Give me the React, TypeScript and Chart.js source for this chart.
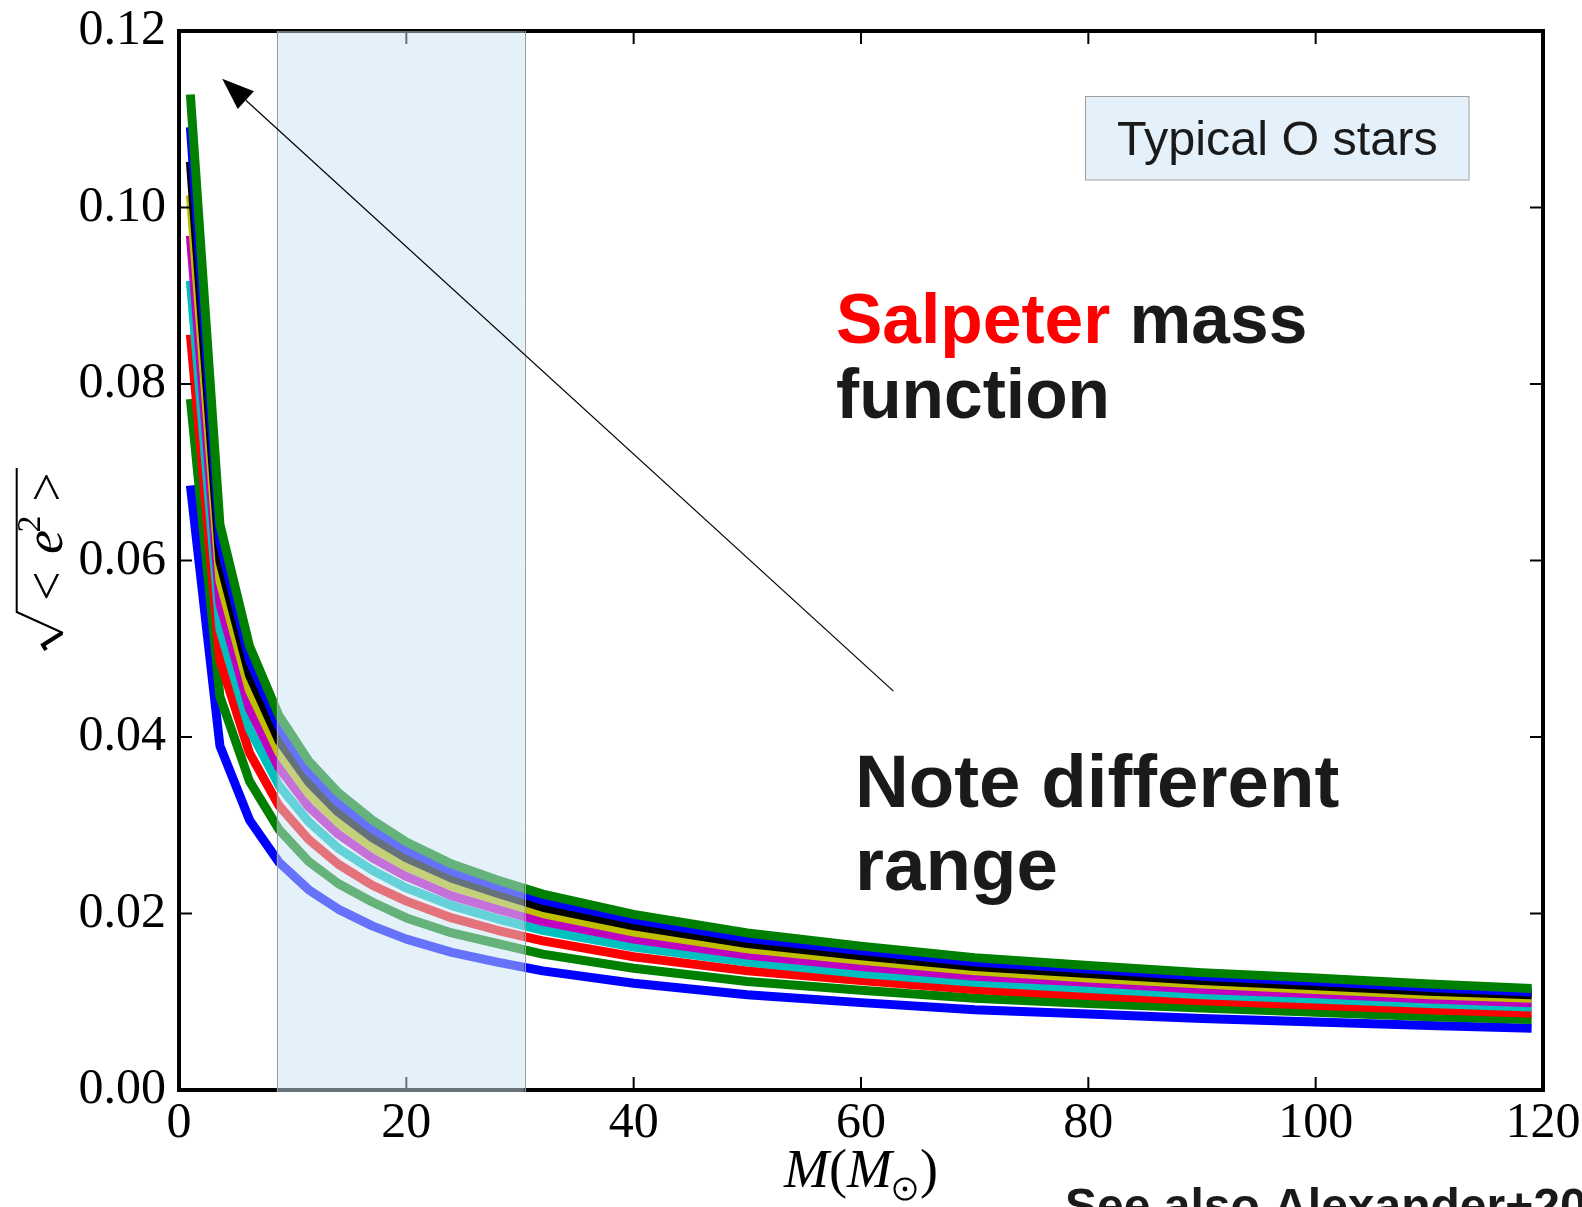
import React, { useEffect, useRef } from "react";
import { Chart, registerables } from "chart.js";

Chart.register(...registerables);

// ---- data ----
const massValues = [1, 3.6, 6.2, 8.8, 11.4, 14, 17, 20, 24, 28, 32, 40, 50, 60, 70, 80, 90, 100, 110, 119];

const blueLow = [0.0685, 0.039, 0.0306, 0.0258, 0.0227, 0.0205, 0.0186, 0.0171, 0.0156, 0.0145, 0.0135, 0.0121, 0.0108, 0.0099, 0.0091, 0.0086, 0.0081, 0.0077, 0.0073, 0.007];
const greenLow = [0.0783, 0.0446, 0.035, 0.0295, 0.0259, 0.0234, 0.0213, 0.0195, 0.0178, 0.0166, 0.0154, 0.0138, 0.0123, 0.0113, 0.0104, 0.0098, 0.0093, 0.0088, 0.0083, 0.008];
const redSeries = [0.0856, 0.0487, 0.0382, 0.0322, 0.0284, 0.0256, 0.0232, 0.0214, 0.0195, 0.0181, 0.0169, 0.0151, 0.0135, 0.0124, 0.0114, 0.0107, 0.0101, 0.0096, 0.0091, 0.0087];
const cyanSeries = [0.0917, 0.0522, 0.0409, 0.0345, 0.0304, 0.0274, 0.0249, 0.0229, 0.0209, 0.0194, 0.0181, 0.0162, 0.0145, 0.0132, 0.0122, 0.0115, 0.0108, 0.0103, 0.0098, 0.0094];
const magentaSeries = [0.0968, 0.0551, 0.0432, 0.0365, 0.0321, 0.029, 0.0263, 0.0242, 0.022, 0.0205, 0.0191, 0.0171, 0.0153, 0.014, 0.0129, 0.0122, 0.0114, 0.0109, 0.0103, 0.0099];
const yellowSeries = [0.1014, 0.0577, 0.0453, 0.0382, 0.0336, 0.0303, 0.0275, 0.0253, 0.0231, 0.0215, 0.02, 0.0179, 0.016, 0.0147, 0.0135, 0.0127, 0.012, 0.0114, 0.0108, 0.0104];
const blackSeries = [0.1052, 0.0599, 0.047, 0.0396, 0.0349, 0.0315, 0.0286, 0.0263, 0.024, 0.0223, 0.0207, 0.0186, 0.0166, 0.0152, 0.014, 0.0132, 0.0124, 0.0118, 0.0112, 0.0108];
const blueHigh = [0.1091, 0.0621, 0.0487, 0.0411, 0.0361, 0.0326, 0.0296, 0.0272, 0.0248, 0.0231, 0.0215, 0.0193, 0.0172, 0.0158, 0.0145, 0.0137, 0.0129, 0.0123, 0.0116, 0.0111];
const greenHigh = [0.1128, 0.0641, 0.0503, 0.0424, 0.0373, 0.0337, 0.0306, 0.0281, 0.0256, 0.0238, 0.0222, 0.0199, 0.0178, 0.0163, 0.015, 0.0141, 0.0133, 0.0127, 0.012, 0.0115];

const seriesList = [blueLow, greenLow, redSeries, cyanSeries, magentaSeries, yellowSeries, blackSeries, blueHigh, greenHigh];
const seriesColors = ["#0000ff", "#008000", "#ff0000", "#00bfbf", "#bf00bf", "#bfbf00", "#000000", "#0000ff", "#008000"];

const xTickValues = [0, 20, 40, 60, 80, 100, 120];
const yTickValues = [0, 0.02, 0.04, 0.06, 0.08, 0.1, 0.12];
const oStarRange = [8.6, 30.4];
const arrowTail = [62.85, 0.0452];
const arrowTip = [3.8, 0.1146];

const SERIF = '"Liberation Serif", "Times New Roman", serif';
const SANS = '"Liberation Sans", Arial, sans-serif';

const decorPlugin = {
  id: "decor",
  afterDatasetsDraw(chart: any) {
    const { ctx, chartArea: a, scales } = chart;
    const xs = scales.x;
    const ys = scales.y;
    ctx.save();
    // ticks (inside, all four sides)
    ctx.strokeStyle = "#000";
    ctx.lineWidth = 2;
    ctx.beginPath();
    for (const t of xTickValues) {
      if (t <= xTickValues[0] || t >= xTickValues[xTickValues.length - 1]) continue;
      const px = xs.getPixelForValue(t);
      ctx.moveTo(px, a.bottom);
      ctx.lineTo(px, a.bottom - 13);
      ctx.moveTo(px, a.top);
      ctx.lineTo(px, a.top + 13);
    }
    for (const t of yTickValues) {
      if (t <= yTickValues[0] || t >= yTickValues[yTickValues.length - 1]) continue;
      const py = ys.getPixelForValue(t);
      ctx.moveTo(a.left, py);
      ctx.lineTo(a.left + 13, py);
      ctx.moveTo(a.right, py);
      ctx.lineTo(a.right - 13, py);
    }
    ctx.stroke();
    // frame
    ctx.lineWidth = 4;
    ctx.strokeRect(a.left, a.top, a.right - a.left, a.bottom - a.top);

    // shaded "typical O stars" range
    const x1 = xs.getPixelForValue(oStarRange[0]);
    const x2 = xs.getPixelForValue(oStarRange[1]);
    ctx.fillStyle = "rgba(201,227,243,0.5)";
    ctx.fillRect(x1, a.top, x2 - x1, a.bottom - a.top + 2);
    ctx.strokeStyle = "#9c9c9c";
    ctx.lineWidth = 1;
    ctx.beginPath();
    ctx.moveTo(Math.round(x1) + 0.5, a.top);
    ctx.lineTo(Math.round(x1) + 0.5, a.bottom + 2);
    ctx.moveTo(Math.round(x2) + 0.5, a.top);
    ctx.lineTo(Math.round(x2) + 0.5, a.bottom + 2);
    ctx.stroke();

    // arrow
    const fx = xs.getPixelForValue(arrowTail[0]);
    const fy = ys.getPixelForValue(arrowTail[1]);
    const tx = xs.getPixelForValue(arrowTip[0]);
    const ty = ys.getPixelForValue(arrowTip[1]);
    const ang = Math.atan2(ty - fy, tx - fx);
    const headLen = 32;
    const headHalf = 12;
    const bx = tx - headLen * Math.cos(ang);
    const by = ty - headLen * Math.sin(ang);
    ctx.strokeStyle = "#000";
    ctx.lineWidth = 1.2;
    ctx.beginPath();
    ctx.moveTo(fx, fy);
    ctx.lineTo(bx, by);
    ctx.stroke();
    ctx.fillStyle = "#000";
    ctx.beginPath();
    ctx.moveTo(tx, ty);
    ctx.lineTo(bx - headHalf * Math.sin(ang), by + headHalf * Math.cos(ang));
    ctx.lineTo(bx + headHalf * Math.sin(ang), by - headHalf * Math.cos(ang));
    ctx.closePath();
    ctx.fill();
    ctx.restore();
  },
  afterDraw(chart: any) {
    const { ctx } = chart;
    ctx.save();
    // Legend-like box
    ctx.fillStyle = "#e4f1fa";
    ctx.fillRect(1085.5, 96.5, 383.5, 83.5);
    ctx.strokeStyle = "#a0a0a0";
    ctx.lineWidth = 1;
    ctx.strokeRect(1085.5, 96.5, 383.5, 83.5);
    ctx.fillStyle = "#1a1a1a";
    ctx.textBaseline = "alphabetic";
    ctx.textAlign = "left";
    ctx.font = `48.5px ${SANS}`;
    ctx.fillText("Typical O stars", 1117, 155);

    // Salpeter mass function
    ctx.font = `bold 69.5px ${SANS}`;
    ctx.fillStyle = "#ff0000";
    ctx.fillText("Salpeter", 836, 343);
    const w = ctx.measureText("Salpeter ").width;
    ctx.fillStyle = "#1a1a1a";
    ctx.fillText("mass", 836 + w, 343);
    ctx.fillText("function", 836, 418);

    // Note different range
    ctx.font = `bold 74.5px ${SANS}`;
    ctx.fillText("Note different", 855, 807);
    ctx.fillText("range", 855, 890);

    // See also (cut by the bottom edge)
    ctx.font = `bold 48px ${SANS}`;
    ctx.fillText("See also Alexander+20", 1065, 1222);

    // x-axis title  M(M_sun)
    ctx.fillStyle = "#000";
    const base = 1187;
    const itFont = `italic 54px ${SERIF}`;
    const rmFont = `54px ${SERIF}`;
    ctx.font = itFont;
    const wM = ctx.measureText("M").width;
    ctx.font = rmFont;
    const wP = ctx.measureText("(").width;
    const wQ = ctx.measureText(")").width;
    const sunW = 28;
    const total = wM + wP + wM + sunW + wQ;
    let cx = 861 - total / 2;
    ctx.font = itFont;
    ctx.fillText("M", cx, base);
    cx += wM;
    ctx.font = rmFont;
    ctx.fillText("(", cx, base);
    cx += wP;
    ctx.font = itFont;
    ctx.fillText("M", cx, base);
    cx += wM;
    ctx.strokeStyle = "#000";
    ctx.lineWidth = 2;
    ctx.beginPath();
    ctx.arc(cx + 13, base + 2, 10.5, 0, Math.PI * 2);
    ctx.stroke();
    ctx.beginPath();
    ctx.arc(cx + 13, base + 2, 2.4, 0, Math.PI * 2);
    ctx.fill();
    cx += sunW;
    ctx.font = rmFont;
    ctx.fillText(")", cx, base);

    // y-axis title  sqrt(<e^2>) rotated
    ctx.rotate(-Math.PI / 2);
    // local (lx, ly) -> screen (ly, -lx)
    ctx.textAlign = "center";
    ctx.font = `52px ${SERIF}`;
    ctx.fillText("<", -586, 64);
    ctx.fillText(">", -487, 64);
    ctx.font = `italic 54px ${SERIF}`;
    ctx.fillText("e", -542, 62);
    ctx.font = `34px ${SERIF}`;
    ctx.fillText("2", -524, 40);
    ctx.lineWidth = 2;
    ctx.beginPath();
    ctx.moveTo(-468, 16.7);
    ctx.lineTo(-612, 16.7);
    ctx.lineTo(-633, 63);
    ctx.stroke();
    ctx.lineWidth = 4;
    ctx.beginPath();
    ctx.moveTo(-633, 62);
    ctx.lineTo(-645, 43);
    ctx.lineTo(-650, 46);
    ctx.stroke();
    ctx.restore();
  },
};

const zeroPadding = (s: any) => {
  s.paddingTop = 0;
  s.paddingBottom = 0;
  s.paddingLeft = 0;
  s.paddingRight = 0;
};

export default function App() {
  const canvasRef = useRef<HTMLCanvasElement | null>(null);

  useEffect(() => {
    const canvas = canvasRef.current;
    if (!canvas) return;
    const datasets = seriesList.map((vals, i) => ({
      label: `series ${i + 1}`,
      data: massValues.map((m, j) => ({ x: m, y: vals[j] })),
      borderColor: seriesColors[i],
      backgroundColor: seriesColors[i],
      borderWidth: 9,
      pointRadius: 0,
      tension: 0,
      fill: false,
      borderCapStyle: "butt" as const,
      borderJoinStyle: "round" as const,
      order: seriesList.length - i,
    }));

    const chart = new Chart(canvas, {
      type: "line",
      data: { datasets },
      options: {
        responsive: false,
        animation: false,
        devicePixelRatio: 1,
        layout: { padding: { left: 0, right: 39, top: 31, bottom: 0 } },
        plugins: { legend: { display: false }, tooltip: { enabled: false } },
        scales: {
          x: {
            type: "linear",
            min: 0,
            max: 120,
            afterFit: (s: any) => {
              s.height = 117;
              zeroPadding(s);
            },
            afterBuildTicks: (s: any) => {
              s.ticks = xTickValues.map((v) => ({ value: v }));
            },
            grid: { display: false, drawTicks: false },
            border: { display: false },
            ticks: {
              color: "#000",
              padding: 4,
              font: { family: SERIF, size: 50 },
              callback: (v: any) => String(v),
            },
          },
          y: {
            type: "linear",
            min: 0,
            max: 0.12,
            afterFit: (s: any) => {
              s.width = 179;
              zeroPadding(s);
            },
            afterBuildTicks: (s: any) => {
              s.ticks = yTickValues.map((v) => ({ value: v }));
            },
            grid: { display: false, drawTicks: false },
            border: { display: false },
            ticks: {
              color: "#000",
              padding: 13,
              font: { family: SERIF, size: 50 },
              callback: (v: any) => Number(v).toFixed(2),
            },
          },
        },
      },
      plugins: [decorPlugin],
    });
    return () => chart.destroy();
  }, []);

  return (
    <div style={{ position: "fixed", left: 0, top: 0, width: 1582, height: 1207, background: "#fff", overflow: "hidden" }}>
      <canvas ref={canvasRef} width={1582} height={1207} style={{ display: "block" }} />
    </div>
  );
}
